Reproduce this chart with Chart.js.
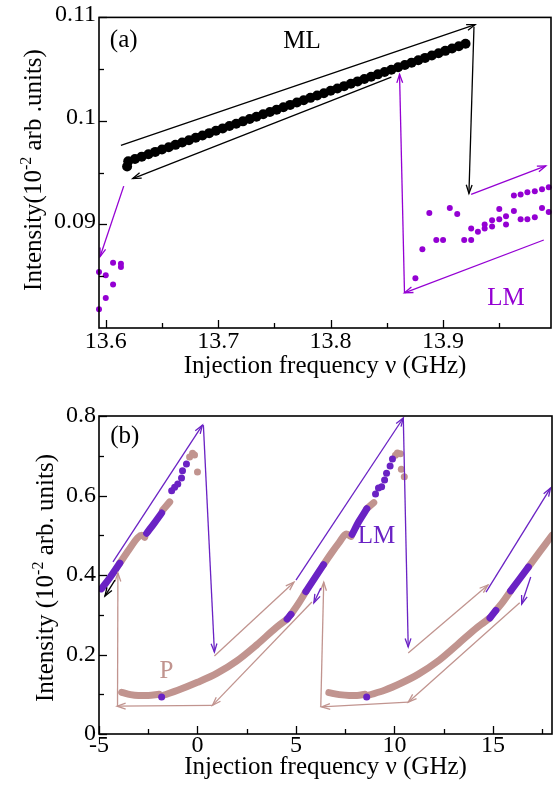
<!DOCTYPE html>
<html>
<head>
<meta charset="utf-8">
<script src="https://cdn.jsdelivr.net/npm/chart.js@4.4.0/dist/chart.umd.min.js"></script>
<style>
body { margin: 0; background: #fff; }
#wrapA { position: absolute; left: 0; top: 0; }
#wrapB { position: absolute; left: 0; top: 395px; }
</style>
</head>
<body>
<div id="wrapA"><canvas id="chartA" width="556" height="385"></canvas></div>
<div id="wrapB"><canvas id="chartB" width="556" height="394"></canvas></div>
<script>
// ---------- panel (a) data ----------
const mlX = [13.619, 13.620, 13.626, 13.632, 13.638, 13.644, 13.650, 13.656, 13.662, 13.668, 13.674,
  13.680, 13.686, 13.692, 13.698, 13.704, 13.710, 13.716, 13.722, 13.728, 13.734,
  13.740, 13.746, 13.752, 13.758, 13.764, 13.770, 13.776, 13.782, 13.788, 13.794,
  13.800, 13.806, 13.812, 13.818, 13.824, 13.830, 13.836, 13.842, 13.848, 13.854,
  13.860, 13.866, 13.872, 13.878, 13.884, 13.890, 13.896, 13.902, 13.908, 13.914, 13.920];
const mlY = [0.09560, 0.09610, 0.09633, 0.09655, 0.09678, 0.09701, 0.09724, 0.09746, 0.09769, 0.09792, 0.09814,
  0.09837, 0.09860, 0.09882, 0.09905, 0.09928, 0.09951, 0.09973, 0.09996, 0.10019, 0.10041,
  0.10064, 0.10087, 0.10109, 0.10132, 0.10155, 0.10178, 0.10200, 0.10223, 0.10246, 0.10268,
  0.10291, 0.10314, 0.10336, 0.10359, 0.10382, 0.10405, 0.10427, 0.10450, 0.10473, 0.10495,
  0.10518, 0.10541, 0.10563, 0.10586, 0.10609, 0.10632, 0.10654, 0.10677, 0.10700, 0.10722, 0.10745];
const lmAX = [13.594, 13.594, 13.600, 13.600, 13.6065, 13.6065, 13.6135, 13.6135,
  13.8754, 13.8816, 13.8878, 13.894, 13.900, 13.906, 13.9126, 13.9188, 13.925, 13.925,
  13.931, 13.937, 13.937, 13.9436, 13.9436, 13.950, 13.950, 13.956, 13.956, 13.963, 13.963,
  13.969, 13.969, 13.975, 13.975, 13.9816, 13.9816, 13.988, 13.988, 13.994, 13.994];
const lmAY = [0.0854, 0.0818, 0.0851, 0.0829, 0.0863, 0.0842, 0.0862, 0.0859,
  0.0848, 0.0876, 0.0911, 0.0885, 0.0885, 0.0916, 0.0910, 0.0885, 0.0885, 0.0896,
  0.0893, 0.0900, 0.0896, 0.0904, 0.0898, 0.0915, 0.0905, 0.0908, 0.0900, 0.0913, 0.0928,
  0.0905, 0.0929, 0.0905, 0.0931, 0.0907, 0.0932, 0.0916, 0.0934, 0.0912, 0.0936];

const xTicksA = [13.6, 13.7, 13.8, 13.9];
const xLabelsA = ['13.6', '13.7', '13.8', '13.9'];
const xMinorA = [13.65, 13.75, 13.85, 13.95];
const yTicksA = [0.09, 0.1, 0.11];
const yLabelsA = ['0.09', '0.1', '0.11'];
const yMinorA = [0.085, 0.095, 0.105];

// arrows: [x1, y1, x2, y2]
const blackArrowsA = [[13.6135, 0.09764, 13.9285, 0.1093], [13.9275, 0.1091, 13.923, 0.0930], [13.854, 0.10424, 13.624, 0.09443]];
const violetArrowsA = [[13.8657, 0.0834, 13.8613, 0.1045], [13.9896, 0.0885, 13.8657, 0.0834],
  [13.925, 0.0929, 13.9914, 0.09566], [13.616, 0.0937, 13.595, 0.0869]];

// ---------- panel (b) data ----------
// pink (P) thick segments
const pFlat1 = [[-3.85, 0.105], [-3.4, 0.099], [-3.0, 0.097], [-2.5, 0.097], [-1.95, 0.100]];
const pRise1 = [[-1.7, 0.098], [-1.0, 0.110], [0, 0.130], [1, 0.153], [2, 0.184], [3, 0.224], [4, 0.268], [4.55, 0.289]];
const pTail1 = [[4.75, 0.301], [5.1, 0.326], [5.5, 0.358]];
const pFlat2 = [[6.67, 0.104], [7.2, 0.099], [7.7, 0.097], [8.1, 0.097], [8.5, 0.100]];
const pRise2 = [[8.7, 0.098], [9.5, 0.110], [10.3, 0.127], [11.2, 0.150], [12.2, 0.183], [13.2, 0.225], [14.2, 0.268], [14.85, 0.292]];
const pTail2 = [[15.15, 0.311], [15.5, 0.332], [15.9, 0.360]];
const lm1Pink1 = [[-3.94, 0.430], [-3.5, 0.462], [-3.03, 0.494], [-2.83, 0.500], [-2.68, 0.495]];
const lm1Pink2 = [[-1.77, 0.563], [-1.41, 0.584]];
const lm2Pink1 = [[6.4, 0.426], [6.8, 0.455], [7.2, 0.482], [7.55, 0.503], [7.8, 0.497]];
const lm2Pink2 = [[8.6, 0.567], [8.95, 0.582]];
const lm3Pink = [[16.8, 0.420], [17.4, 0.460], [18, 0.500]];
const pinkDots = [[-0.4, 0.697], [-0.25, 0.706], [-0.15, 0.702], [0.0, 0.659],
  [10.05, 0.701], [10.15, 0.707], [10.3, 0.705], [10.35, 0.666], [10.5, 0.647]];
// violet (LM) thick segments
const lm1Vio1 = [[-4.88, 0.365], [-4.45, 0.393], [-3.94, 0.430]];
const lm1Vio2 = [[-2.58, 0.505], [-2.2, 0.530], [-1.82, 0.556]];
const pBlock1 = [[4.55, 0.289], [4.75, 0.301]];
const lm2Vio1 = [[5.5, 0.358], [5.95, 0.392], [6.4, 0.426]];
const lm2Vio2 = [[7.85, 0.502], [8.2, 0.535], [8.6, 0.567]];
const pBlock2 = [[14.85, 0.292], [15.15, 0.311]];
const lm3Vio = [[15.9, 0.360], [16.35, 0.390], [16.8, 0.420]];
const violetDots = [[-1.82, 0.093], [8.59, 0.093],
  [-1.31, 0.612], [-1.16, 0.621], [-1.0, 0.629], [-0.81, 0.644], [-0.76, 0.662], [-0.56, 0.679],
  [9.04, 0.604], [9.19, 0.619], [9.35, 0.622], [9.5, 0.639], [9.6, 0.656], [9.78, 0.674], [9.9, 0.692]];

const xTicksB = [-5, 0, 5, 10, 15];
const xLabelsB = ['-5', '0', '5', '10', '15'];
const xMinorB = [-2.5, 2.5, 7.5, 12.5, 17.5];
const yTicksB = [0, 0.2, 0.4, 0.6, 0.8];
const yLabelsB = ['0', '0.2', '0.4', '0.6', '0.8'];
const yMinorB = [0.1, 0.3, 0.5, 0.7];

const violetArrowsB = [[-4.29, 0.433, 0.25, 0.777], [0.3, 0.777, 0.86, 0.206], [5.0, 0.387, 10.45, 0.795],
  [10.45, 0.795, 10.7, 0.219], [14.65, 0.357, 17.93, 0.619], [6.26, 0.367, 5.91, 0.33], [16.92, 0.395, 16.46, 0.327]];
const pinkArrowsB = [[0.86, 0.196, 4.9, 0.382], [5.81, 0.332, 0.76, 0.072], [0.76, 0.072, -4.08, 0.070],
  [-4.06, 0.070, -4.04, 0.405], [10.7, 0.204, 14.75, 0.375], [16.36, 0.33, 10.7, 0.08],
  [10.7, 0.08, 6.3, 0.068], [6.26, 0.068, 6.41, 0.382]];
const blackArrowsB = [[-4.19, 0.387, -4.7, 0.347]];

// ---------- style ----------
const serif = "'Liberation Serif', 'Times New Roman', serif";
const violetA = '#9400d3';
const violetB = '#6a22c4';
const pinkB = '#c1948f';

function pts(xs, ys) { return xs.map((v, i) => ({x: v, y: ys[i]})); }
function pairs(arr) { return arr.map(p => ({x: p[0], y: p[1]})); }

function thick(arr, color) {
  return { data: pairs(arr), showLine: true, borderColor: color, backgroundColor: color, borderWidth: 7,
    pointRadius: 0, borderCapStyle: 'round', borderJoinStyle: 'round', cubicInterpolationMode: 'monotone' };
}
function dots(arr, color, r) {
  return { data: pairs(arr), pointRadius: r, backgroundColor: color, borderWidth: 0, showLine: false };
}

function drawArrow(ctx, x1, y1, x2, y2, color) {
  ctx.strokeStyle = color;
  ctx.lineWidth = 1.3;
  ctx.beginPath(); ctx.moveTo(x1, y1); ctx.lineTo(x2, y2); ctx.stroke();
  const ang = Math.atan2(y2 - y1, x2 - x1), len = 9, spread = 0.33;
  ctx.beginPath();
  ctx.moveTo(x2 - len * Math.cos(ang - spread), y2 - len * Math.sin(ang - spread));
  ctx.lineTo(x2, y2);
  ctx.lineTo(x2 - len * Math.cos(ang + spread), y2 - len * Math.sin(ang + spread));
  ctx.stroke();
}

// frame, inward ticks, arrows, labels, y title with superscript
function makeDecor(cfg) {
  return {
    id: 'decor',
    afterDatasetsDraw(chart) {
      const {ctx, scales: {x, y}} = chart;
      ctx.save();
      cfg.arrows.forEach(g => {
        g.list.forEach(a => drawArrow(ctx, x.getPixelForValue(a[0]), y.getPixelForValue(a[1]),
          x.getPixelForValue(a[2]), y.getPixelForValue(a[3]), g.color));
      });
      ctx.textAlign = 'center';
      ctx.textBaseline = 'middle';
      cfg.labels.forEach(l => {
        ctx.font = '25px ' + serif;
        ctx.fillStyle = l.color;
        ctx.fillText(l.text, x.getPixelForValue(l.x), y.getPixelForValue(l.y));
      });
      ctx.restore();
    },
    afterDraw(chart) {
      const {ctx, chartArea: a, scales: {x, y}} = chart;
      ctx.save();
      ctx.strokeStyle = '#000';
      ctx.lineWidth = 1.3;
      const tx = (vals, len) => vals.forEach(v => {
        const p = Math.round(x.getPixelForValue(v)) + 0.5;
        ctx.beginPath(); ctx.moveTo(p, a.bottom); ctx.lineTo(p, a.bottom - len); ctx.stroke();
      });
      const ty = (vals, len) => vals.forEach(v => {
        const p = Math.round(y.getPixelForValue(v)) + 0.5;
        ctx.beginPath(); ctx.moveTo(a.left, p); ctx.lineTo(a.left + len, p); ctx.stroke();
      });
      tx(cfg.xMajor, 8); tx(cfg.xMinor, 5);
      ty(cfg.yMajor, 8); ty(cfg.yMinor, 5);
      ctx.lineWidth = 1.6;
      ctx.strokeRect(a.left, a.top, a.right - a.left, a.bottom - a.top);

      // y title
      const t = cfg.yTitle;
      ctx.fillStyle = '#000';
      ctx.textBaseline = 'alphabetic';
      ctx.textAlign = 'left';
      ctx.font = '25px ' + serif;
      const w1 = ctx.measureText(t.pre).width, w3 = ctx.measureText(t.post).width;
      ctx.font = '16px ' + serif;
      const w2 = ctx.measureText(t.sup).width;
      const w = w1 + w2 + w3;
      ctx.translate(t.bx, t.cy);
      ctx.rotate(-Math.PI / 2);
      ctx.font = '25px ' + serif;
      ctx.fillText(t.pre, -w / 2, 0);
      ctx.font = '16px ' + serif;
      ctx.fillText(t.sup, -w / 2 + w1, -10);
      ctx.font = '25px ' + serif;
      ctx.fillText(t.post, -w / 2 + w1 + w2, 0);
      ctx.restore();
    }
  };
}

function axes(xMin, xMax, yMin, yMax, xT, xL, yT, yL, xH, xPad, titlePad, yShift) {
  return {
    x: {
      type: 'linear', min: xMin, max: xMax,
      grid: {display: false, drawTicks: false}, border: {display: false},
      afterBuildTicks: s => { s.ticks = xT.map(v => ({value: v})); },
      afterFit: s => { s.height = xH; },
      ticks: {font: {family: serif, size: 24}, color: '#000', padding: xPad, maxRotation: 0, autoSkip: false,
        callback: (v, i) => xL[i]},
      title: {display: true, text: 'Injection frequency ν (GHz)', color: '#000',
        font: {family: serif, size: 25}, padding: {top: 0, bottom: titlePad}}
    },
    y: {
      type: 'linear', min: yMin, max: yMax,
      grid: {display: false, drawTicks: false}, border: {display: false},
      afterBuildTicks: s => { s.ticks = yT.map(v => ({value: v})); },
      afterFit: s => { s.width = 99; },
      ticks: {font: {family: serif, size: 24}, color: '#000', padding: 3, autoSkip: false, labelOffset: yShift,
        callback: (v, i) => yL[i]}
    }
  };
}

const common = {
  responsive: false, animation: false, devicePixelRatio: 1,
  plugins: {legend: {display: false}, tooltip: {enabled: false}}
};

new Chart(document.getElementById('chartA'), {
  type: 'scatter',
  data: {
    datasets: [
      {data: pts(lmAX, lmAY), pointRadius: 3, backgroundColor: violetA, borderWidth: 0, clip: false},
      {data: pts(mlX, mlY), pointRadius: 5, backgroundColor: '#000', borderWidth: 0}
    ]
  },
  options: Object.assign({}, common, {
    layout: {padding: {top: 10, right: 2, left: 0, bottom: 0}},
    scales: axes(13.594, 13.996, 0.08, 0.11, xTicksA, xLabelsA, yTicksA, yLabelsA, 57, -1, 4, -3)
  }),
  plugins: [makeDecor({
    xMajor: xTicksA, xMinor: xMinorA, yMajor: yTicksA, yMinor: yMinorA,
    arrows: [{list: blackArrowsA, color: '#000'}, {list: violetArrowsA, color: violetA}],
    labels: [
      {text: '(a)', x: 13.616, y: 0.1078, color: '#000'},
      {text: 'ML', x: 13.7745, y: 0.1077, color: '#000'},
      {text: 'LM', x: 13.956, y: 0.0829, color: violetA}
    ],
    yTitle: {pre: 'Intensity(10', sup: '-2', post: ' arb .units)', bx: 41, cy: 170}
  })]
});

new Chart(document.getElementById('chartB'), {
  type: 'scatter',
  data: {
    datasets: [
      dots(violetDots, violetB, 3.5),
      thick(lm1Vio1, violetB), thick(lm1Vio2, violetB), thick(pBlock1, violetB),
      thick(lm2Vio1, violetB), thick(lm2Vio2, violetB), thick(pBlock2, violetB), thick(lm3Vio, violetB),
      dots(pinkDots, pinkB, 3.5),
      thick(pFlat1, pinkB), thick(pRise1, pinkB), thick(pTail1, pinkB),
      thick(pFlat2, pinkB), thick(pRise2, pinkB), thick(pTail2, pinkB),
      thick(lm1Pink1, pinkB), thick(lm1Pink2, pinkB), thick(lm2Pink1, pinkB), thick(lm2Pink2, pinkB),
      thick(lm3Pink, pinkB)
    ]
  },
  options: Object.assign({}, common, {
    layout: {padding: {top: 21, right: 2, left: 0, bottom: 0}},
    scales: axes(-5, 18, 0, 0.8, xTicksB, xLabelsB, yTicksB, yLabelsB, 55, -3, 7, 0)
  }),
  plugins: [makeDecor({
    xMajor: xTicksB, xMinor: xMinorB, yMajor: yTicksB, yMinor: yMinorB,
    arrows: [{list: pinkArrowsB, color: pinkB}, {list: violetArrowsB, color: violetB}, {list: blackArrowsB, color: '#000'}],
    labels: [
      {text: '(b)', x: -3.69, y: 0.749, color: '#000'},
      {text: 'LM', x: 9.09, y: 0.496, color: violetB},
      {text: 'P', x: -1.57, y: 0.158, color: pinkB}
    ],
    yTitle: {pre: 'Intensity (10', sup: '-2', post: ' arb. units)', bx: 53, cy: 183}
  })]
});
</script>
</body>
</html>
